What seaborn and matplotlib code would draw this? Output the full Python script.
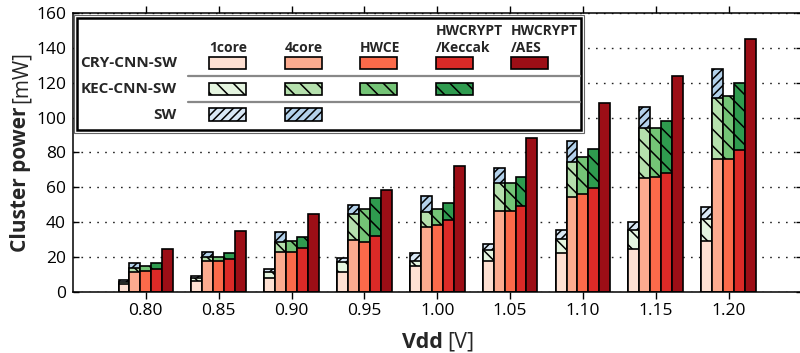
import numpy as np
import pandas as pd
import matplotlib
matplotlib.use("Agg")
import matplotlib.pyplot as plt
import seaborn as sns
from matplotlib.patches import Rectangle
from matplotlib.lines import Line2D

# ---------------- data ----------------
vdd = ["0.80", "0.85", "0.90", "0.95", "1.00", "1.05", "1.10", "1.15", "1.20"]
configs = ["1core", "4core", "HWCE", "HWCRYPT/Keccak", "HWCRYPT/AES"]
header_labels = ["1core", "4core", "HWCE", "HWCRYPT\n/Keccak", "HWCRYPT\n/AES"]
workloads = ["CRY-CNN-SW", "KEC-CNN-SW", "SW"]

# power [mW] per workload, per configuration, over vdd
cry_1core  = [4.3, 6.3, 8.1, 11.5, 14.8, 17.7, 22.5, 24.8, 29.0]
cry_4core  = [11.3, 17.8, 22.7, 29.8, 37.4, 46.5, 54.4, 65.4, 76.0]
cry_hwce   = [11.8, 17.5, 22.7, 28.5, 38.5, 46.5, 56.3, 66.0, 76.3]
cry_keccak = [13.0, 18.7, 25.0, 32.1, 41.2, 49.0, 59.6, 68.1, 81.3]
cry_aes    = [24.4, 34.8, 44.8, 58.1, 72.1, 88.5, 108.3, 123.7, 145.0]

kec_1core  = [5.5, 7.8, 11.5, 17.3, 17.7, 23.7, 30.2, 35.2, 41.7]
kec_4core  = [13.8, 20.0, 28.5, 44.6, 46.0, 62.5, 74.4, 93.7, 111.0]
kec_hwce   = [14.6, 20.2, 29.0, 47.5, 47.5, 62.5, 77.3, 94.2, 112.5]
kec_keccak = [16.3, 22.1, 31.3, 53.8, 51.0, 66.0, 81.7, 98.1, 119.6]

sw_1core   = [6.6, 9.2, 12.9, 19.6, 22.0, 27.3, 35.2, 39.8, 48.5]
sw_4core   = [16.5, 23.0, 34.2, 50.0, 55.2, 71.2, 86.5, 105.8, 127.7]

cry_colors = ["#fee0d2", "#fcab8f", "#fb6a4a", "#db2a27", "#9c0e16"]
kec_colors = ["#e5f5e0", "#b5e0ad", "#74c476", "#2f9b4f"]
sw_colors  = ["#d8e7f5", "#b3d1ea"]


def frame(series):
    rows = []
    for cfg, vals in series.items():
        for v, p in zip(vdd, vals):
            rows.append({"vdd": v, "config": cfg, "power": p})
    return pd.DataFrame(rows)


df_cry = frame(dict(zip(configs, [cry_1core, cry_4core, cry_hwce, cry_keccak, cry_aes])))
df_kec = frame(dict(zip(configs[:4], [kec_1core, kec_4core, kec_hwce, kec_keccak])))
df_sw = frame(dict(zip(configs[:2], [sw_1core, sw_4core])))

# ---------------- style ----------------
sns.set_style("white")
plt.rcParams["font.family"] = ["Open Sans", "DejaVu Sans"]
plt.rcParams["hatch.linewidth"] = 1.1
plt.rcParams["hatch.color"] = "black"

KEC_HATCH = "\\\\"
SW_HATCH = "////"

W, H, DPI = 800, 353, 100
fig = plt.figure(figsize=(W / DPI, H / DPI), dpi=DPI)
ax_left, ax_right = 73 / W, 801.5 / W
ax_bottom, ax_top = 1 - 291.7 / H, 1 - 13 / H
ax = fig.add_axes([ax_left, ax_bottom, ax_right - ax_left, ax_top - ax_bottom])


def layer(df, colors, hatch):
    pal = {c: "white" for c in configs}
    pal.update(dict(zip(configs, colors)))
    n0 = len(ax.patches)
    sns.barplot(data=df, x="vdd", y="power", hue="config", order=vdd,
                hue_order=configs, palette=pal, saturation=1, width=0.75,
                dodge=True, errorbar=None, edgecolor="black", linewidth=1.2,
                legend=False, ax=ax)
    for p in ax.patches[n0:]:
        if hatch:
            p.set_hatch(hatch)


layer(df_sw, sw_colors, SW_HATCH)
layer(df_kec, kec_colors, KEC_HATCH)
layer(df_cry, cry_colors, None)

ax.set_xlim(-1.0, 9.0)
ax.set_ylim(0, 160)
ax.set_yticks(np.arange(0, 161, 20))
ax.set_axisbelow(True)
ax.yaxis.grid(True, color="#222222", linestyle=(0, (1.2, 4.5)), linewidth=1.0)
ax.xaxis.grid(False)
for s in ax.spines.values():
    s.set_linewidth(1.1)
    s.set_color("black")
ax.tick_params(axis="x", direction="out", length=5, width=1, top=True,
               bottom=True, labelsize=12.5, pad=3, colors="black")
ax.tick_params(axis="y", direction="in", length=4.5, width=1, left=True,
               right=True, labelsize=12.5, pad=5, colors="black")
ax.set_xlabel("")
ax.set_ylabel("")

# axis labels (bold part + regular unit)
fig.text(443 / W, 1 - 347.5 / H, "Vdd", ha="right", va="baseline",
         fontsize=15.5, fontweight="bold")
fig.text(447.5 / W, 1 - 347.5 / H, "[V]", ha="left", va="baseline",
         fontsize=15.5)
fig.text(21 / W, 1 - 106 / H, "Cluster power", rotation=90, ha="center",
         va="top", fontsize=15, fontweight="bold")
fig.text(21 / W, 1 - 103 / H, "[mW]", rotation=90, ha="center",
         va="bottom", fontsize=15)


# ---------------- matrix legend ----------------
def fx(x):
    return x / W


def fy(y):
    return 1 - y / H


fig.add_artist(Rectangle((fx(74), fy(133)), fx(584) - fx(74), fy(15) - fy(133),
                         transform=fig.transFigure, facecolor="white",
                         edgecolor="#666666", linewidth=0.8, zorder=5))
fig.add_artist(Rectangle((fx(77), fy(130)), fx(581) - fx(77), fy(18) - fy(130),
                         transform=fig.transFigure, facecolor="white",
                         edgecolor="black", linewidth=1.8, zorder=5))

col_left = [209, 284.5, 360, 436, 511]
row_y = [63, 89, 114.7]
sw_w, sw_h = 37, 12.6
row_colors = [cry_colors, kec_colors, sw_colors]
row_hatch = [None, KEC_HATCH, SW_HATCH]

for r, (name, cols, hatch) in enumerate(zip(workloads, row_colors, row_hatch)):
    fig.text(fx(177), fy(row_y[r]), name, ha="right", va="center",
             fontsize=11, fontweight="bold", zorder=6)
    for c, col in enumerate(cols):
        fig.add_artist(Rectangle((fx(col_left[c]), fy(row_y[r] + sw_h / 2)),
                                 sw_w / W, sw_h / H, transform=fig.transFigure,
                                 facecolor=col, edgecolor="black",
                                 linewidth=1.2, hatch=hatch, zorder=6))

for c, lab in enumerate(header_labels):
    fig.text(fx(col_left[c]), fy(51.5), lab, ha="left", va="baseline",
             fontsize=10, fontweight="bold", linespacing=1.2, zorder=6)

for ysep in (75.7, 101.7):
    fig.add_artist(Line2D([fx(188), fx(580)], [fy(ysep), fy(ysep)],
                          transform=fig.transFigure, color="#888888",
                          linewidth=1.6, zorder=6))

fig.savefig("out.png", dpi=DPI)
